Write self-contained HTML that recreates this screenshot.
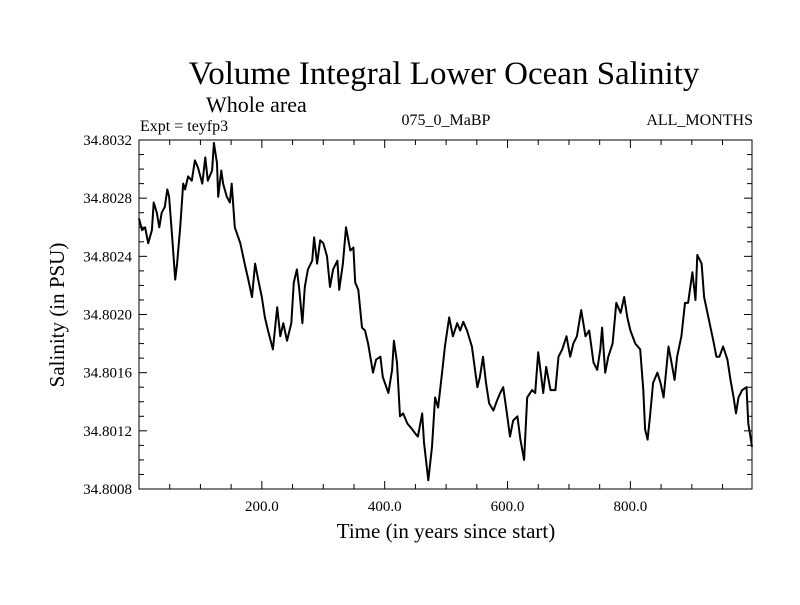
<!DOCTYPE html>
<html><head><meta charset="utf-8"><style>
body{margin:0;background:#fff;}
svg text{font-family:"Liberation Serif",serif;fill:#000;}
</style></head><body>
<svg id="chart" width="800" height="600" xmlns="http://www.w3.org/2000/svg">
<text x="444" y="84" font-size="33" text-anchor="middle">Volume Integral Lower Ocean Salinity</text>
<text x="206" y="112" font-size="22">Whole area</text>
<text x="140" y="131" font-size="16">Expt = teyfp3</text>
<text x="446" y="125" font-size="16" text-anchor="middle">075_0_MaBP</text>
<text x="753" y="125" font-size="16" text-anchor="end">ALL_MONTHS</text>
<text x="446" y="538" font-size="21" text-anchor="middle">Time (in years since start)</text>
<text transform="translate(64,315) rotate(-90)" font-size="21" text-anchor="middle">Salinity (in PSU)</text>
<g id="axes"></g>
<g id="series"></g>
<rect x="139" y="140" width="613" height="349" fill="none" stroke="#000" stroke-width="1"/>
</svg>
<script>
const years=[0,5,10,15,21,24,29,33,37,42,46,49,54,59,62,67,72,75,80,86,91,96,103,108,112,119,122,127,129,134,137,143,148,151,156,165,173,178,184,189,194,200,205,210,218,225,230,235,241,248,252,257,261,266,270,275,282,285,290,295,300,306,311,316,323,326,332,337,344,349,352,357,363,368,373,381,386,393,397,406,412,415,420,425,430,437,445,450,454,461,464,471,477,482,487,494,498,505,511,518,523,528,534,542,547,551,555,560,565,570,577,583,588,593,599,604,609,616,621,627,632,640,645,650,655,658,663,670,678,683,689,696,702,707,713,720,727,733,740,746,751,754,759,764,771,777,784,790,795,800,808,816,821,824,828,832,837,844,849,854,862,867,872,876,883,889,894,901,906,909,916,920,927,935,940,945,951,958,963,968,972,976,982,989,992,997,998];
const salinity=[34.80266,34.80258,34.80260,34.80249,34.80258,34.80277,34.80270,34.80260,34.80270,34.80274,34.80286,34.80281,34.80253,34.80224,34.80235,34.80260,34.80290,34.80286,34.80295,34.80292,34.80306,34.80301,34.80290,34.80308,34.80292,34.80299,34.80318,34.80304,34.80281,34.80299,34.80290,34.80281,34.80277,34.80290,34.80260,34.80249,34.80233,34.80224,34.80212,34.80235,34.80224,34.80212,34.80198,34.80189,34.80176,34.80205,34.80185,34.80194,34.80182,34.80194,34.80222,34.80231,34.80217,34.80194,34.80219,34.80231,34.80237,34.80253,34.80235,34.80251,34.80249,34.80240,34.80219,34.80231,34.80237,34.80217,34.80235,34.80260,34.80244,34.80246,34.80222,34.80217,34.80191,34.80189,34.80180,34.80160,34.80169,34.80171,34.80157,34.80146,34.80162,34.80182,34.80167,34.80130,34.80132,34.80125,34.80121,34.80118,34.80116,34.80132,34.80112,34.80086,34.80109,34.80143,34.80136,34.80162,34.80178,34.80198,34.80185,34.80194,34.80189,34.80195,34.80189,34.80178,34.80162,34.80150,34.80157,34.80171,34.80153,34.80139,34.80134,34.80141,34.80146,34.80150,34.80132,34.80116,34.80127,34.80130,34.80114,34.80100,34.80143,34.80148,34.80146,34.80174,34.80157,34.80146,34.80164,34.80148,34.80148,34.80171,34.80176,34.80185,34.80171,34.80180,34.80185,34.80203,34.80185,34.80189,34.80167,34.80162,34.80176,34.80191,34.80160,34.80171,34.80180,34.80208,34.80201,34.80212,34.80198,34.80189,34.80180,34.80176,34.80148,34.80121,34.80114,34.80130,34.80153,34.80160,34.80153,34.80143,34.80178,34.80167,34.80155,34.80171,34.80185,34.80208,34.80208,34.80229,34.80210,34.80241,34.80235,34.80212,34.80198,34.80182,34.80171,34.80171,34.80178,34.80169,34.80155,34.80143,34.80132,34.80143,34.80148,34.80150,34.80125,34.80112,34.80109];
const xTickLabels=["200.0","400.0","600.0","800.0"];
const xTickValues=[200,400,600,800];
const yTickLabels=["34.8008","34.8012","34.8016","34.8020","34.8024","34.8028","34.8032"];
const yTickValues=[34.8008,34.8012,34.8016,34.8020,34.8024,34.8028,34.8032];

const X0=139,X1=752,Y0=489,Y1=140,XMIN=0,XMAX=998,YMIN=34.8008,YMAX=34.8032;
function sx(v){return X0+(v-XMIN)/(XMAX-XMIN)*(X1-X0);}
function sy(v){return Y0-(v-YMIN)/(YMAX-YMIN)*(Y0-Y1);}
const NS="http://www.w3.org/2000/svg";
const axes=document.getElementById('axes');
function line(x1,y1,x2,y2,name){
  const l=document.createElementNS(NS,'line');
  l.setAttribute('x1',x1);l.setAttribute('y1',y1);l.setAttribute('x2',x2);l.setAttribute('y2',y2);
  l.setAttribute('stroke','#000');l.setAttribute('stroke-width','1');
  
  
  axes.appendChild(l);
}
for(let v=50;v<XMAX;v+=50){
  const x=sx(v);const major=v%200===0;const len=major?8:5;
  line(x,Y0,x,Y0-len,'x-tick');
  line(x,Y1,x,Y1+len,'x-tick-top');
}
for(let i=0;i<=24;i++){
  const v=YMIN+i*0.0001;const y=sy(v);const major=i%4===0;const len=major?8:5;
  line(X0,y,X0+len,y,'y-tick');
  line(X1,y,X1-len,y,'y-tick-right');
}
xTickLabels.forEach((t,i)=>{
  const e=document.createElementNS(NS,'text');
  e.setAttribute('x',sx(xTickValues[i]));e.setAttribute('y',Y0+22);
  e.setAttribute('font-size','15');e.setAttribute('text-anchor','middle');
  e.textContent=t;
  
  
  axes.appendChild(e);
});
yTickLabels.forEach((t,i)=>{
  const e=document.createElementNS(NS,'text');
  e.setAttribute('x',X0-7);e.setAttribute('y',sy(yTickValues[i])+5);
  e.setAttribute('font-size','15');e.setAttribute('text-anchor','end');
  e.textContent=t;
  
  
  axes.appendChild(e);
});
const p=document.createElementNS(NS,'polyline');
p.setAttribute('points',years.map((y,i)=>sx(y).toFixed(1)+','+sy(salinity[i]).toFixed(1)).join(' '));
p.setAttribute('fill','none');p.setAttribute('stroke','#000');p.setAttribute('stroke-width','2');p.setAttribute('stroke-linejoin','round');


document.getElementById('series').appendChild(p);
</script>
</body></html>
